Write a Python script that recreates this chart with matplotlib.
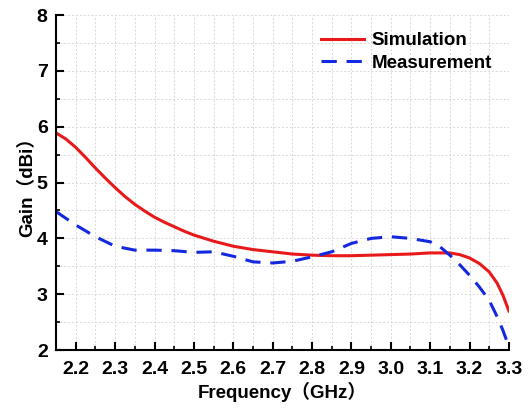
import matplotlib
matplotlib.use("Agg")
import matplotlib.pyplot as plt
from matplotlib.ticker import MultipleLocator

plt.rcParams['font.family'] = ['Liberation Sans', 'Noto Sans CJK SC', 'DejaVu Sans']
plt.rcParams['font.weight'] = 'bold'

sim_freq = [2.15, 2.175, 2.2, 2.225, 2.25, 2.275, 2.3, 2.325, 2.35, 2.375, 2.4, 2.425, 2.45, 2.475,
            2.5, 2.55, 2.6, 2.65, 2.7, 2.75, 2.8, 2.85, 2.9, 2.95, 3.0, 3.05, 3.1, 3.15, 3.175, 3.2,
            3.225, 3.25, 3.27, 3.285, 3.3]
sim_gain = [5.89, 5.78, 5.63, 5.45, 5.26, 5.08, 4.91, 4.75, 4.61, 4.49, 4.38, 4.29, 4.21, 4.13,
            4.06, 3.95, 3.86, 3.8, 3.76, 3.72, 3.70, 3.69, 3.69, 3.70, 3.71, 3.72, 3.74, 3.74, 3.71, 3.65,
            3.55, 3.4, 3.2, 2.98, 2.7]

meas_freq = [2.15, 2.2, 2.25, 2.3, 2.35, 2.4, 2.45, 2.5, 2.55, 2.6, 2.65, 2.7, 2.75, 2.8, 2.85,
             2.9, 2.95, 3.0, 3.05, 3.1, 3.125, 3.15, 3.175, 3.2, 3.225, 3.25, 3.27, 3.285, 3.3]
meas_gain = [4.48, 4.24, 4.03, 3.86, 3.79, 3.79, 3.78, 3.75, 3.76, 3.68, 3.58, 3.56, 3.59, 3.67, 3.76,
             3.91, 4.0, 4.03, 4.0, 3.94, 3.85, 3.7, 3.53, 3.34, 3.13, 2.89, 2.6, 2.35, 2.06]

xtick_vals = [2.2, 2.3, 2.4, 2.5, 2.6, 2.7, 2.8, 2.9, 3.0, 3.1, 3.2, 3.3]
xtick_labels = ['2.2', '2.3', '2.4', '2.5', '2.6', '2.7', '2.8', '2.9', '3.0', '3.1', '3.2', '3.3']

fig = plt.figure(figsize=(5.29, 4.08), dpi=100)
ax = fig.add_axes([0.106, 0.142, 0.856, 0.821])

ax.plot(sim_freq, sim_gain, color='#e8191b', lw=2.2, label='Simulation')
ax.plot(meas_freq, meas_gain, color='#1428e0', lw=2.2, ls=(0, (5.0, 3.2)), label='Measurement')

ax.set_xlim(2.15, 3.3)
ax.set_ylim(2, 8)
ax.xaxis.set_minor_locator(MultipleLocator(0.05))
ax.yaxis.set_major_locator(MultipleLocator(1))
ax.yaxis.set_minor_locator(MultipleLocator(0.5))
ax.set_xticks(xtick_vals)
ax.set_xticklabels(xtick_labels)

ax.grid(True, which='both', color='#d8d8d8', ls=(0, (2, 2)), lw=0.7)
ax.set_axisbelow(True)

for s in ['top', 'right']:
    ax.spines[s].set_visible(False)
for s in ['left', 'bottom']:
    ax.spines[s].set_linewidth(1.5)

ax.tick_params(which='major', direction='in', length=6, width=1.5, labelsize=14)
ax.tick_params(axis='x', which='major', pad=8)
ax.tick_params(axis='y', which='major', pad=6)
ax.tick_params(which='minor', direction='in', length=3, width=1.2)
for lab in ax.get_xticklabels() + ax.get_yticklabels():
    lab.set_fontweight('bold')

ax.set_xlabel('Frequency（GHz）', fontsize=13.5, fontweight='bold', labelpad=3)
ax.set_ylabel('Gain（dBi）', fontsize=13.5, fontweight='bold', labelpad=0)

leg = ax.legend(loc='upper right', frameon=False, fontsize=13.5, handlelength=2.3,
                handletextpad=0.4, labelspacing=0.3, bbox_to_anchor=(1.0, 1.0))
for t in leg.get_texts():
    t.set_fontweight('bold')

fig.savefig('out.png', dpi=100)
